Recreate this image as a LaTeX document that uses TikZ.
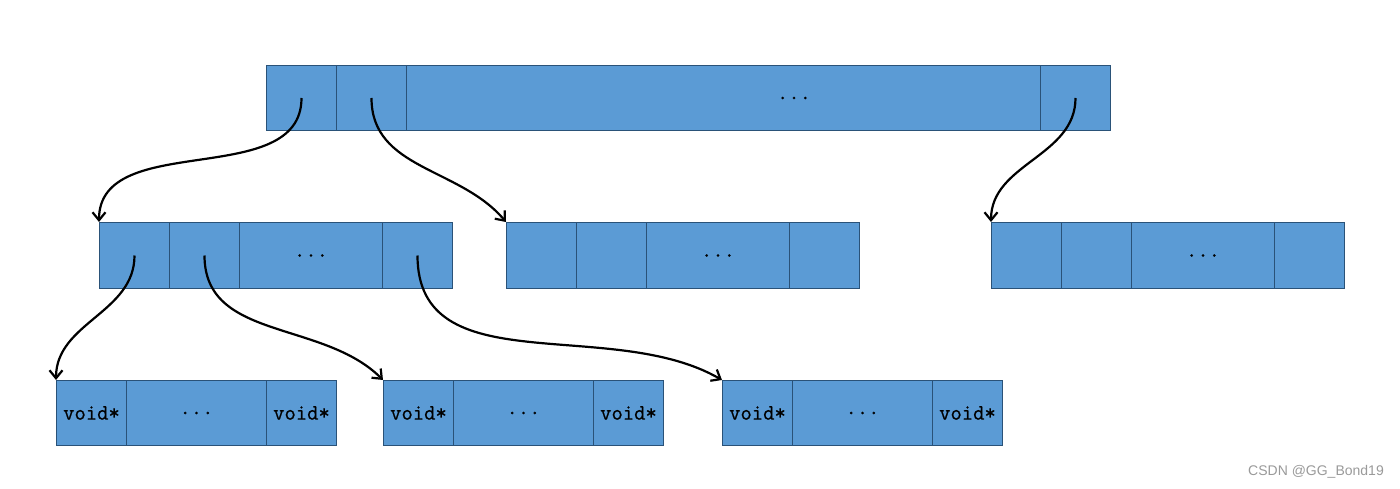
\documentclass[tikz,border=0pt]{standalone}
\usepackage{fontspec}
\newfontfamily\wmfont{Liberation Sans}
\newfontfamily\cellfont{Latin Modern Mono}[FakeBold=0.8]
\usetikzlibrary{arrows.meta}
\definecolor{cellblue}{HTML}{5B9BD5}
\definecolor{cellborder}{HTML}{2A5278}
\definecolor{wmgray}{HTML}{9A9A9A}
\begin{document}
\begin{tikzpicture}[x=1pt,y=1pt,
  cell/.style={draw=cellborder, fill=cellblue, line width=1pt, inner sep=0pt,
    anchor=north west, minimum width=70pt, minimum height=65pt,
    font=\cellfont\fontsize{22}{22}\selectfont},
  wide/.style={cell, minimum width=#1},
  arr/.style={draw=black, line width=2.2pt, -{Straight Barb[length=8pt,width=13pt]}}]
\path[fill=white,use as bounding box] (0,0) rectangle (1400,-489);
% top row
\node[cell] (t1) at (266,-65) {};
\node[cell] (t2) at (336,-65) {};
\node[wide=634pt] (t3) at (406,-65) {};
\node[cell] (t4) at (1040,-65) {};
\node[font=\cellfont\fontsize{22}{22}\selectfont, inner sep=0pt] (tdots) at (794,-98) {...};
% middle row
\node[cell, minimum height=66pt] (a1) at (99,-222) {};
\node[cell, minimum height=66pt] (a2) at (169,-222) {};
\node[wide=143pt, minimum height=66pt] (a3) at (239,-222) {...};
\node[cell, minimum height=66pt] (a4) at (382,-222) {};
\node[cell, minimum height=66pt] (b1) at (506,-222) {};
\node[cell, minimum height=66pt] (b2) at (576,-222) {};
\node[wide=143pt, minimum height=66pt] (b3) at (646,-222) {...};
\node[cell, minimum height=66pt] (b4) at (789,-222) {};
\node[cell, minimum height=66pt] (c1) at (991,-222) {};
\node[cell, minimum height=66pt] (c2) at (1061,-222) {};
\node[wide=143pt, minimum height=66pt] (c3) at (1131,-222) {...};
\node[cell, minimum height=66pt] (c4) at (1274,-222) {};
% bottom row
\node[cell] (d1) at (56,-380) {void*};
\node[wide=140pt] (d2) at (126,-380) {...};
\node[cell] (d3) at (266,-380) {void*};
\node[cell] (e1) at (383,-380) {void*};
\node[wide=140pt] (e2) at (453,-380) {...};
\node[cell] (e3) at (593,-380) {void*};
\node[cell] (f1) at (722,-380) {void*};
\node[wide=140pt] (f2) at (792,-380) {...};
\node[cell] (f3) at (932,-380) {void*};
% arrows
\draw[arr] (t1.center) to[out=-90,in=90] (a1.north west);
\draw[arr] (t2.center) to[out=-90,in=130] (b1.north west);
\draw[arr] (t4.center) to[out=-90,in=90] (c1.north west);
\draw[arr] (a1.center) to[out=-90,in=90] (d1.north west);
\draw[arr] (a2.center) to[out=-90,in=135] (e1.north west);
\draw[arr] (a4.center) to[out=-90,in=150] (f1.north west);
% watermark
\node[font=\wmfont\fontsize{14}{14}\selectfont, text=wmgray, anchor=east, inner sep=0pt] (wm) at (1384,-472) {CSDN @GG\_Bond19};
\end{tikzpicture}
\end{document}
